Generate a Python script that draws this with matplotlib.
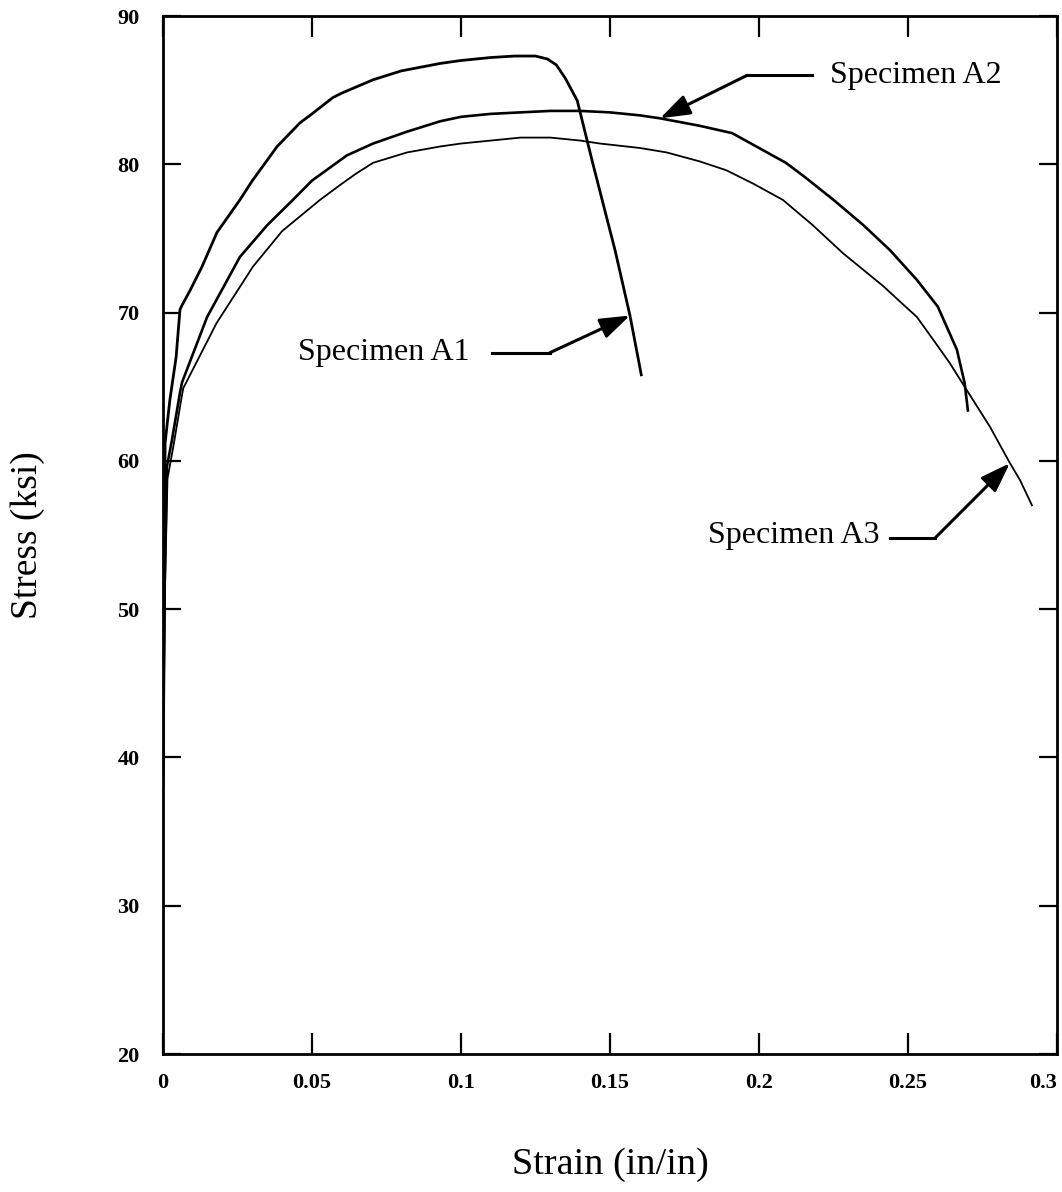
import matplotlib
matplotlib.use("Agg")
import matplotlib.pyplot as plt

# ---- data ----
a1_strain = [0.0, 0.0004, 0.0007, 0.0023, 0.0044, 0.0057, 0.0064, 0.0091, 0.0131, 0.0181,
             0.0258, 0.030, 0.0383, 0.046, 0.050, 0.057, 0.060, 0.0705, 0.080, 0.093,
             0.100, 0.110, 0.118, 0.125, 0.129, 0.132, 0.135, 0.139,
             0.1443, 0.1517, 0.1567, 0.1605]
a1_stress = [38.0, 52.0, 61.2, 64.1, 67.0, 70.2, 70.5, 71.5, 73.1, 75.4,
             77.6, 78.9, 81.2, 82.8, 83.4, 84.5, 84.8, 85.7, 86.3, 86.8,
             87.0, 87.2, 87.3, 87.3, 87.1, 86.7, 85.8, 84.3,
             80.0, 74.2, 69.8, 65.8]

a2_strain = [0.0, 0.0006, 0.0013, 0.003, 0.0057, 0.0064, 0.0148, 0.0258, 0.035, 0.0436,
             0.050, 0.0617, 0.0705, 0.0819, 0.093, 0.100, 0.110, 0.120, 0.130, 0.140,
             0.150, 0.160, 0.1668, 0.180, 0.191, 0.200, 0.209, 0.215, 0.225, 0.235,
             0.244, 0.253, 0.260, 0.2664, 0.269, 0.2701]
a2_stress = [38.0, 52.0, 59.6, 61.4, 64.6, 65.3, 69.7, 73.75, 75.9, 77.6,
             78.9, 80.6, 81.4, 82.2, 82.9, 83.2, 83.4, 83.5, 83.6, 83.6,
             83.5, 83.3, 83.1, 82.6, 82.1, 81.1, 80.1, 79.2, 77.6, 75.9,
             74.2, 72.2, 70.4, 67.5, 65.25, 63.4]

a3_strain = [0.0, 0.0006, 0.0015, 0.0035, 0.006, 0.0068, 0.018, 0.0302, 0.040, 0.0527,
             0.0594, 0.065, 0.0705, 0.0819, 0.093, 0.100, 0.110, 0.120, 0.130, 0.140,
             0.1466, 0.160, 0.169, 0.180, 0.189, 0.198, 0.208, 0.218, 0.2282,
             0.2416, 0.247, 0.253, 0.258, 0.264, 0.269, 0.2775, 0.2842, 0.2876, 0.2916]
a3_stress = [38.0, 51.0, 58.8, 61.0, 64.0, 64.9, 69.3, 73.1, 75.5, 77.6,
             78.6, 79.4, 80.1, 80.8, 81.2, 81.4, 81.6, 81.8, 81.8, 81.6,
             81.4, 81.1, 80.8, 80.2, 79.6, 78.7, 77.6, 75.9, 74.0,
             71.8, 70.8, 69.7, 68.3, 66.6, 65.0, 62.3, 59.85, 58.7, 57.0]

x_ticks = [0, 0.05, 0.1, 0.15, 0.2, 0.25, 0.3]
x_tick_labels = ["0", "0.05", "0.1", "0.15", "0.2", "0.25", "0.3"]
y_ticks = [20, 30, 40, 50, 60, 70, 80, 90]
y_tick_labels = ["20", "30", "40", "50", "60", "70", "80", "90"]

labels = ["Specimen A1", "Specimen A2", "Specimen A3"]

plt.rcParams['font.family'] = ['Liberation Serif', 'DejaVu Serif']

fig = plt.figure(figsize=(10.62, 11.92), dpi=100)
ax = fig.add_axes([163/1062, 1 - 1054/1192, (1057-163)/1062, (1054-16)/1192])

ax.plot(a1_strain, a1_stress, color='black', lw=2.0)
ax.plot(a2_strain, a2_stress, color='black', lw=1.9)
ax.plot(a3_strain, a3_stress, color='black', lw=1.3)

ax.set_xlim(0, 0.3)
ax.set_ylim(20, 90)
ax.set_xticks(x_ticks)
ax.set_xticklabels(x_tick_labels)
ax.set_yticks(y_ticks)
ax.set_yticklabels(y_tick_labels)
ax.tick_params(axis='x', direction='in', length=15, width=1.6, top=True, pad=14,
               labelsize=16)
ax.tick_params(axis='y', direction='in', length=13, width=1.6, right=True, pad=17,
               labelsize=16)
for lab in ax.get_xticklabels() + ax.get_yticklabels():
    lab.set_fontweight('bold')
ax.get_xticklabels()[-1].set_horizontalalignment('right')
for sp in ax.spines.values():
    sp.set_linewidth(2.0)

ax.set_xlabel("Strain (in/in)", fontsize=27.5, va='center')
ax.xaxis.set_label_coords(0.5, -0.107)
ax.set_ylabel("Stress (ksi)", fontsize=27, va='center')
ax.yaxis.set_label_coords(-0.151, 0.5)

# ---- annotations ----
arrow_kw = dict(arrowstyle='-|>,head_length=1.3,head_width=0.45', color='black',
                lw=2.2, mutation_scale=14, shrinkA=0, shrinkB=0)
ann_fs = 23

# A1
ax.text(0.103, 67.3, labels[0], ha='right', va='center', fontsize=ann_fs)
ax.plot([0.1104, 0.1299], [67.3, 67.3], color='black', lw=2.2)
ax.annotate('', xy=(0.1567, 69.8), xytext=(0.1299, 67.3), arrowprops=arrow_kw)

# A2
ax.text(0.2238, 86.0, labels[1], ha='left', va='center', fontsize=ann_fs)
ax.plot([0.2178, 0.196], [86.0, 86.0], color='black', lw=2.2)
ax.annotate('', xy=(0.1668, 83.1), xytext=(0.196, 86.0), arrowprops=arrow_kw)

# A3
ax.text(0.2406, 55.0, labels[2], ha='right', va='center', fontsize=ann_fs)
ax.plot([0.244, 0.2591], [54.8, 54.8], color='black', lw=2.2)
ax.annotate('', xy=(0.2842, 59.85), xytext=(0.2591, 54.8), arrowprops=arrow_kw)

fig.savefig("out.png", dpi=100)
